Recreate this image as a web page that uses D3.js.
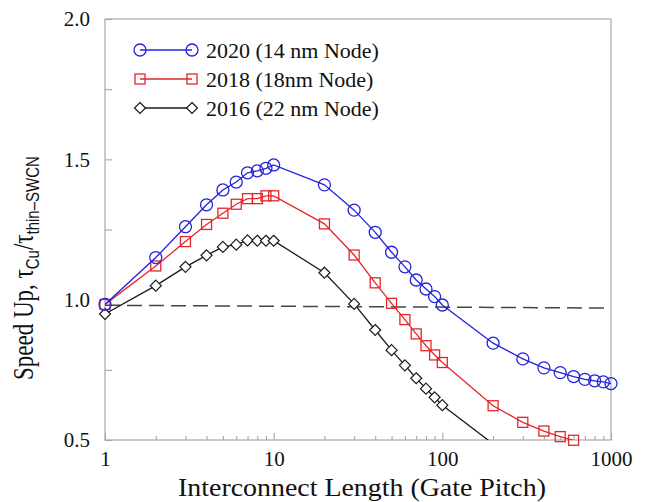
<!DOCTYPE html>
<meta charset="utf-8">
<script src="https://d3js.org/d3.v7.min.js"></script>
<div id="my_dataviz"></div>
<style>
    body { margin: 0; background: #fff; }
    svg text { font-family: "Liberation Serif", "Times New Roman", serif; fill: #111; }
</style>
<script>

    // x positions (gate pitch) and speed-up values
    var len2020 = [1, 2, 3, 4, 5, 6, 7, 8, 9, 10, 20, 30, 40, 50, 60, 70, 80, 90, 100, 200, 300, 400, 500, 600, 700, 800, 900, 1000];
    var speed2020 = [0.983, 1.15, 1.26, 1.338, 1.391, 1.419, 1.452, 1.459, 1.468, 1.48, 1.409, 1.319, 1.24, 1.169, 1.117, 1.07, 1.038, 1.011, 0.981, 0.845, 0.789, 0.757, 0.740, 0.726, 0.716, 0.711, 0.707, 0.701];

    var len2018 = [1, 2, 3, 4, 5, 6, 7, 8, 9, 10, 20, 30, 40, 50, 60, 70, 80, 90, 100, 200, 300, 400, 500, 600];
    var speed2018 = [0.983, 1.12, 1.207, 1.268, 1.308, 1.34, 1.36, 1.36, 1.37, 1.37, 1.27, 1.159, 1.06, 0.987, 0.929, 0.878, 0.836, 0.803, 0.776, 0.622, 0.563, 0.532, 0.512, 0.499];

    var len2016 = [1, 2, 3, 4, 5, 6, 7, 8, 9, 10, 20, 30, 40, 50, 60, 70, 80, 90, 100, 200];
    var speed2016 = [0.949, 1.05, 1.117, 1.158, 1.188, 1.196, 1.211, 1.21, 1.21, 1.21, 1.096, 0.985, 0.892, 0.82, 0.766, 0.72, 0.683, 0.652, 0.624, 0.486];

    var seriesNames = ["2020 (14 nm Node)", "2018 (18nm Node)", "2016 (22 nm Node)"];

    // reference (break-even) dashed line
    var refLen = [1, 950];
    var refSpeed = [0.98, 0.97];

    var xTickLabels = [1, 10, 100, 1000];
    var yTickLabels = [0.5, 1.0, 1.5, 2.0];
    var yMinorTicks = [0.75, 1.25, 1.75];

    var series = [
        { name: seriesNames[0], len: len2020, speed: speed2020, color: "#2323dc", shape: "circle" },
        { name: seriesNames[1], len: len2018, speed: speed2018, color: "#e4262c", shape: "square" },
        { name: seriesNames[2], len: len2016, speed: speed2016, color: "#1a1a1a", shape: "diamond" }
    ];

    // set the dimensions and margins of the graph
    var margin = { top: 19, right: 38, bottom: 62, left: 105 },
        width = 649 - margin.left - margin.right,
        height = 502 - margin.top - margin.bottom;

    var svg = d3.select("#my_dataviz")
        .append("svg")
        .attr("width", 649)
        .attr("height", 502)
        .append("g")
        .attr("transform", "translate(" + margin.left + "," + margin.top + ")");

    var x = d3.scaleLog().domain([1, 1000]).range([0, width]);
    var y = d3.scaleLinear().domain([0.5, 2.0]).range([height, 0]);

    svg.append("clipPath").attr("id", "plotclip")
        .append("rect").attr("width", width).attr("height", height);

    // frame
    svg.append("rect")
        .attr("width", width)
        .attr("height", height)
        .attr("fill", "none")
        .attr("stroke", "#a8a8a8")
        .attr("stroke-width", 1.2);

    // x minor ticks
    var minorX = [];
    [1, 10, 100].forEach(function (d) { for (var k = 2; k < 10; k++) minorX.push(d * k); });
    svg.append("g")
        .attr("transform", "translate(0," + height + ")")
        .call(d3.axisBottom(x).tickValues(minorX).tickSize(-4).tickFormat(""));

    // x major ticks + labels
    svg.append("g")
        .attr("transform", "translate(0," + height + ")")
        .call(d3.axisBottom(x).tickValues(xTickLabels).tickSizeInner(-7).tickSizeOuter(0)
            .tickPadding(11).tickFormat(d3.format("d")));

    // y ticks
    svg.append("g")
        .call(d3.axisLeft(y).tickValues(yMinorTicks).tickSize(-7).tickFormat(""));
    svg.append("g")
        .call(d3.axisLeft(y).tickValues(yTickLabels).tickSizeInner(-7).tickSizeOuter(0)
            .tickPadding(15).tickFormat(d3.format(".1f")));

    svg.selectAll(".domain").remove();
    svg.selectAll(".tick line").attr("stroke", "#a8a8a8").attr("stroke-width", 1.1);
    svg.selectAll(".tick text")
        .style("font-family", "'Liberation Serif', serif")
        .style("font-size", "21px")
        .attr("fill", "#111");

    // dashed reference line
    svg.append("line")
        .attr("x1", x(refLen[0])).attr("y1", y(refSpeed[0]))
        .attr("x2", x(refLen[1])).attr("y2", y(refSpeed[1]))
        .attr("stroke", "#444")
        .attr("stroke-width", 1.5)
        .attr("stroke-dasharray", "15,7");

    function drawMarker(g, shape, color, cx, cy) {
        if (shape === "circle") {
            g.append("circle").attr("cx", cx).attr("cy", cy).attr("r", 6)
                .attr("fill", "none").attr("stroke", color).attr("stroke-width", 1.3);
        } else if (shape === "square") {
            g.append("rect").attr("x", cx - 5).attr("y", cy - 5).attr("width", 10).attr("height", 10)
                .attr("fill", "none").attr("stroke", color).attr("stroke-width", 1.3);
        } else {
            g.append("path")
                .attr("d", "M" + cx + "," + (cy - 5.5) + "L" + (cx + 5.5) + "," + cy + "L" + cx + "," + (cy + 5.5) + "L" + (cx - 5.5) + "," + cy + "Z")
                .attr("fill", "#fff").attr("stroke", color).attr("stroke-width", 1.2);
        }
    }

    var line = d3.line()
        .x(function (d) { return x(d[0]); })
        .y(function (d) { return y(d[1]); });

    series.slice().reverse().forEach(function (s) {
        var pts = s.len.map(function (v, i) { return [v, s.speed[i]]; });
        svg.append("path")
            .datum(pts)
            .attr("clip-path", "url(#plotclip)")
            .attr("d", line)
            .attr("fill", "none")
            .attr("stroke", s.color)
            .attr("stroke-width", 1.3);
        var mg = svg.append("g");
        pts.filter(function (d) { return d[1] >= y.domain()[0] - 0.002; })
            .forEach(function (d) { drawMarker(mg, s.shape, s.color, x(d[0]), y(d[1])); });
    });

    // legend
    var legend = svg.append("g").attr("transform", "translate(35,31)");
    series.forEach(function (s, i) {
        var ly = i * 29;
        legend.append("line")
            .attr("x1", 0).attr("x2", 52).attr("y1", ly).attr("y2", ly)
            .attr("stroke", s.color).attr("stroke-width", 1.3);
        drawMarker(legend, s.shape, s.color, 0, ly);
        drawMarker(legend, s.shape, s.color, 52, ly);
        legend.append("text")
            .attr("x", 66).attr("y", ly + 7.5)
            .style("font-size", "22px")
            .text(s.name);
    });

    // x axis title
    svg.append("text")
        .attr("x", width / 2 + 4)
        .attr("y", height + 56)
        .attr("text-anchor", "middle")
        .attr("textLength", 368)
        .attr("lengthAdjust", "spacingAndGlyphs")
        .style("font-size", "26px")
        .text("Interconnect Length (Gate Pitch)");

    // y axis title with subscripts
    var yt = svg.append("text")
        .attr("transform", "translate(" + (33 - margin.left) + "," + (380 - margin.top) + ") rotate(-90) scale(1,1.25)")
        .style("font-size", "23px");
    yt.append("tspan").text("Speed Up, \u03c4");
    yt.append("tspan").attr("dy", 5).style("font-family", "'Liberation Sans', sans-serif")
        .style("font-size", "15px").text("Cu");
    yt.append("tspan").attr("dy", -5).text("/\u03c4");
    yt.append("tspan").attr("dy", 5).style("font-family", "'Liberation Sans', sans-serif")
        .style("font-size", "15px").text("thin\u2013SWCN");

</script>
